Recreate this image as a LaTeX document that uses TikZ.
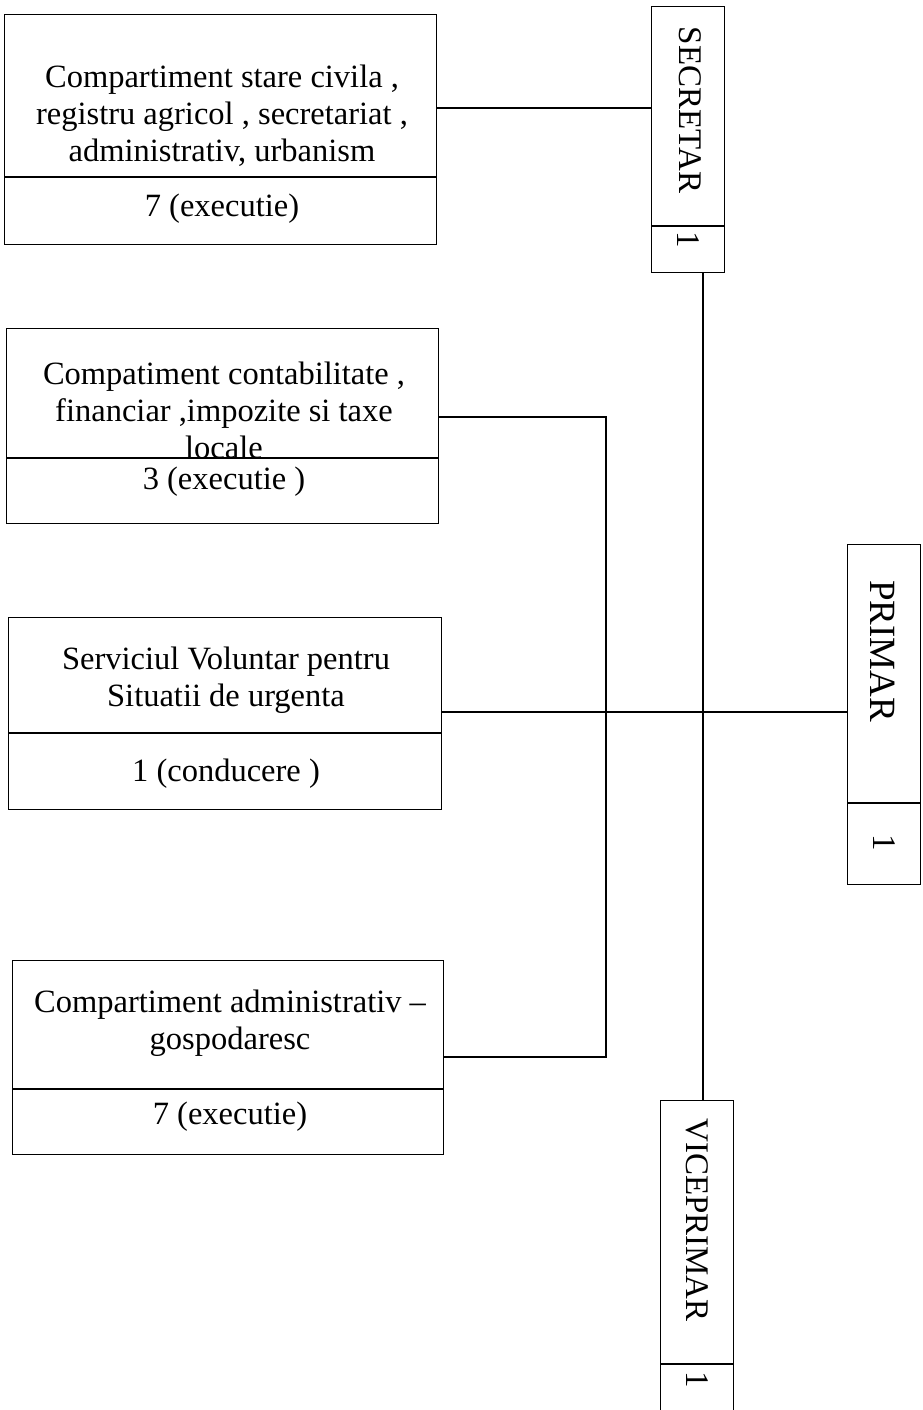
\documentclass[tikz,border=0pt]{standalone}
\usepackage{fontspec}
\setmainfont{Liberation Serif}
\usetikzlibrary{positioning}

\tikzset{
	cellbox/.style={draw, line width=1.2pt, inner sep=0pt, anchor=north west},
	txt/.style={font=\fontsize{32.5}{37}\selectfont, align=center, inner sep=0pt},
	vtxt/.style={font=\fontsize{33}{37}\selectfont, inner sep=0pt, rotate=-90},
	link/.style={line width=1.2pt}
}

\begin{document}
\begin{tikzpicture}[x=1pt,y=-1pt]
				
				\clip (0,0) rectangle (922,1410);
				
				% Casetele din stanga
				\node[cellbox, minimum width=432pt, minimum height=162pt] (b1) at (4,14) {};
				\node[cellbox, minimum width=432pt, minimum height=67pt] (b1n) at (b1.south west) {};
				\node[cellbox, minimum width=432pt, minimum height=129pt] (b2) at (6,328) {};
				\node[cellbox, minimum width=432pt, minimum height=65pt] (b2n) at (b2.south west) {};
				\node[cellbox, minimum width=433pt, minimum height=115pt] (b3) at (8,617) {};
				\node[cellbox, minimum width=433pt, minimum height=76pt] (b3n) at (b3.south west) {};
				\node[cellbox, minimum width=431pt, minimum height=128pt] (b4) at (12,960) {};
				\node[cellbox, minimum width=431pt, minimum height=65pt] (b4n) at (b4.south west) {};
				
				% Casetele verticale
				\node[cellbox, minimum width=73pt, minimum height=219pt] (sec) at (651,6) {};
				\node[cellbox, minimum width=73pt, minimum height=46pt] (secn) at (sec.south west) {};
				\node[cellbox, minimum width=73pt, minimum height=258pt] (prim) at (847,544) {};
				\node[cellbox, minimum width=73pt, minimum height=81pt] (primn) at (prim.south west) {};
				\node[cellbox, minimum width=73pt, minimum height=263pt] (vice) at (660,1100) {};
				\node[cellbox, minimum width=73pt, minimum height=80pt] (vicen) at (vice.south west) {};
				
				% Textele
				\node[txt] (t1) at (222,116) {Compartiment stare civila ,\\registru agricol , secretariat ,\\administrativ, urbanism};
				\node[txt] (n1) at (222,209) {7 (executie)};
				\node[txt] (t2) at (224,410) {Compatiment contabilitate ,\\financiar ,impozite si taxe\\locale};
				\node[txt] (n2) at (224,482) {3 (executie )};
				\node[txt] (t3) at (226,680) {Serviciul Voluntar pentru\\Situatii de urgenta};
				\node[txt] (n3) at (226,774) {1 (conducere )};
				\node[txt] (t4) at (230,1023) {Compartiment administrativ --\\gospodaresc};
				\node[txt] (n4) at (230,1117) {7 (executie)};
				
				\node[vtxt] (ts) at (690,110) {SECRETAR};
				\node[vtxt] (ns) at (688,240) {1};
				\node[vtxt, font=\fontsize{37}{37}\selectfont] (tp) at (883,651) {PRIMAR};
				\node[vtxt] (np) at (884,843) {1};
				\node[vtxt] (tv) at (697,1220) {VICEPRIMAR};
				\node[vtxt] (nv) at (697,1380) {1};
				
				% Legaturile
				\coordinate (c1) at (0,108);
				\coordinate (c3) at (0,712);
				\coordinate (k2) at (606,417);
				\coordinate (k4) at (606,1057);
				\coordinate (spine) at (703,0);
				
				\draw[link] (b1.east |- c1) -- (sec.west |- c1);
				\draw[link] (secn.south -| spine) -- (vice.north -| spine);
				\draw[link] (b3.east |- c3) -- (prim.west |- c3);
				\draw[link] (b2.east |- k2) -- (k2) -- (k4) -- (b4.east |- k4);
				
			\end{tikzpicture}
\end{document}
